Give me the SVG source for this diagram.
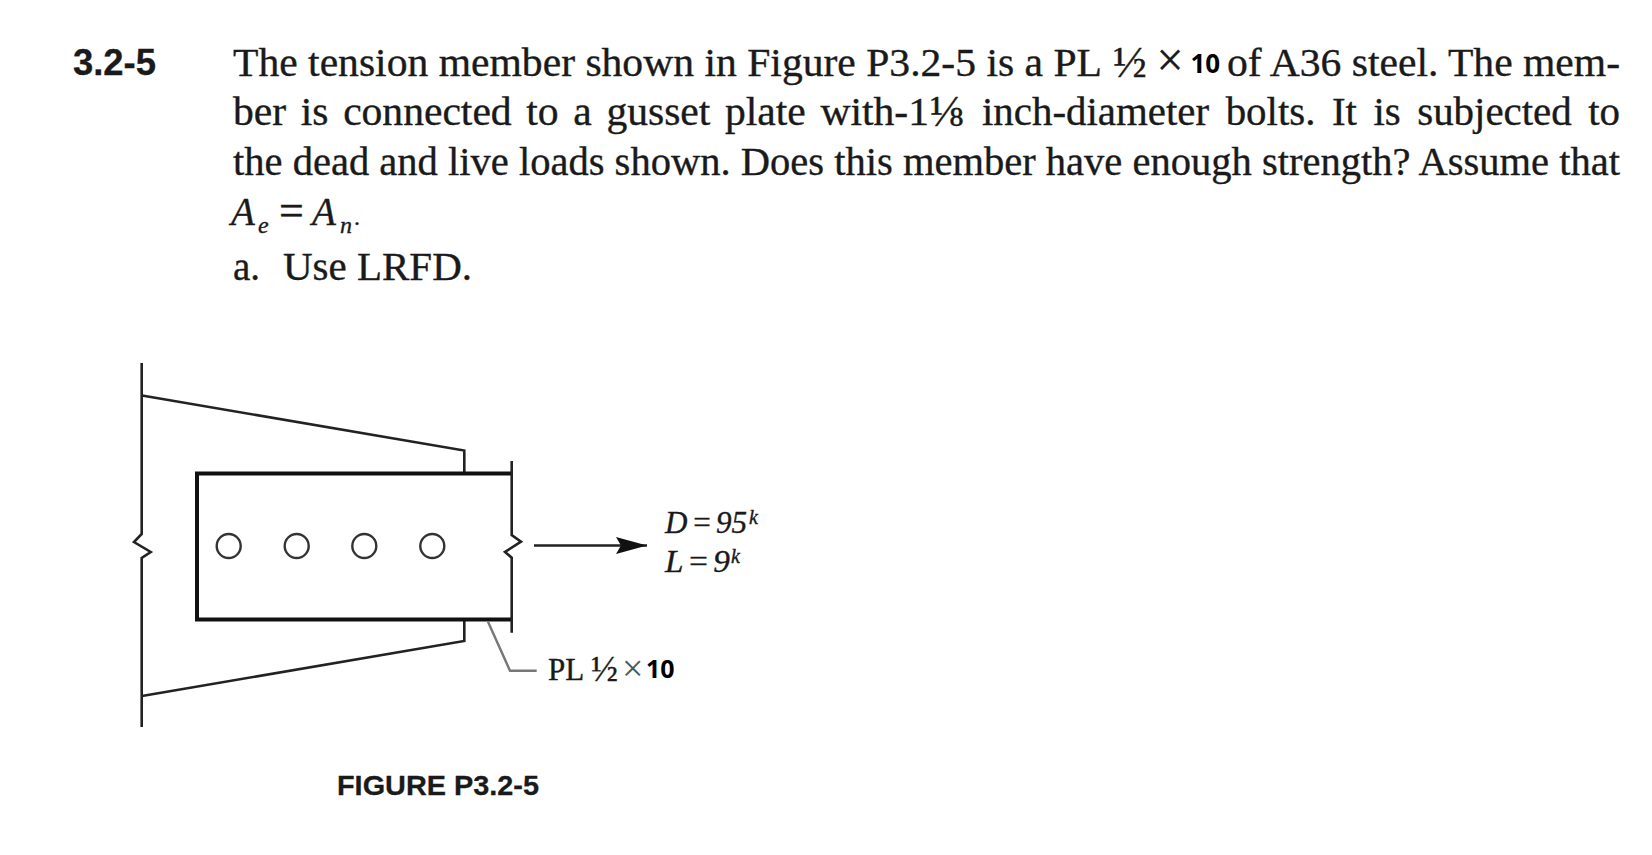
<svg xmlns="http://www.w3.org/2000/svg" width="1652" height="855" viewBox="0 0 1652 855">
<style>
.b{font-family:"Liberation Serif","Times New Roman",serif;fill:#1a1a1a;stroke:#1a1a1a;stroke-width:.35px}
.m{font-size:39px}
.i{font-style:italic}
.h{font-family:"Liberation Sans",Arial,sans-serif;font-weight:bold;fill:#1a1a1a;stroke:#1a1a1a;stroke-width:.3px}
.t{font-family:"Noto Sans","Open Sans",sans-serif;font-weight:bold;fill:#000}
.f{fill:none;stroke:#222;stroke-width:2.6}
.c{fill:none;stroke:#333;stroke-width:2.4}
</style>
<defs><marker id="ah" markerUnits="userSpaceOnUse" markerWidth="32" markerHeight="20" refX="31" refY="10" orient="auto"><path d="M0,1.500 L31,10 L0,18.500 L5,10 Z" fill="#111"/></marker></defs>
<rect width="1652" height="855" fill="#fff"/>
<g id="problem">
<text class="h" x="73" y="75" font-size="36" textLength="83" lengthAdjust="spacingAndGlyphs">3.2-5</text>
<text class="b m" x="233" y="75.500" textLength="869" lengthAdjust="spacingAndGlyphs">The tension member shown in Figure P3.2-5 is a PL</text>
<text class="b" style="font-size:45px" x="1113" y="77">½</text>
<text class="b" style="font-size:48px" x="1156.500" y="76">×</text>
<text class="t" x="1190.500" y="73.300" font-size="26">10</text>
<text class="b m" x="1227" y="75.500" textLength="393" lengthAdjust="spacingAndGlyphs">of A36 steel. The mem-</text>
<text class="b m" x="233" y="125" word-spacing="4" textLength="696" lengthAdjust="spacingAndGlyphs">ber is connected to a gusset plate with-1</text>
<text class="b" style="font-size:44px" x="930" y="126">⅛</text>
<text class="b m" x="982" y="125" word-spacing="6" textLength="638" lengthAdjust="spacingAndGlyphs">inch-diameter bolts. It is subjected to</text>
<text class="b m" x="233" y="174.500" textLength="1387" lengthAdjust="spacingAndGlyphs">the dead and live loads shown. Does this member have enough strength? Assume that</text>
<g id="equation"><text class="b m i" x="231" y="225">A</text><text class="b i" style="font-size:24px" x="258" y="233">e</text><text class="b" style="font-size:44px" x="279" y="225">=</text><text class="b m i" x="312" y="225">A</text><text class="b i" style="font-size:24px" x="340" y="233">n</text><text class="b" style="font-size:24px" x="354" y="225">.</text></g>
<text class="b m" x="233" y="280">a.</text>
<text class="b m" x="283" y="280" textLength="189" lengthAdjust="spacingAndGlyphs">Use LRFD.</text>
</g>
<g id="gusset"><path class="f" d="M141.700,363 V534 L134,542 L150.700,552 L141.700,558 V727"/><path class="f" d="M142,395.500 L464.300,450.500 V473"/><path class="f" d="M464.300,620 V641 L142,696"/></g>
<g id="plate"><path d="M511.700,473.500 H197 V619.500 H511.700" fill="none" stroke="#111" stroke-width="4"/><path class="f" d="M511.700,461 V535 L521,541.700 L505,552 L511.700,557.700 V632.700"/></g>
<g id="bolts"><circle class="c" cx="228.700" cy="546" r="12"/><circle class="c" cx="296.700" cy="546" r="12"/><circle class="c" cx="364.300" cy="546" r="12"/><circle class="c" cx="432.300" cy="546" r="12"/></g>
<g id="connectors"><path d="M534,545.500 H647" fill="none" stroke="#222" stroke-width="2.600" marker-end="url(#ah)"/><path d="M488,621.700 L510,670.700 H536.700" fill="none" stroke="#777" stroke-width="2.400"/></g>
<g id="labels">
<text class="b i" style="font-size:31px" x="665" y="532.700" word-spacing="-4" textLength="82" lengthAdjust="spacingAndGlyphs">D = 95</text><text class="b i" style="font-size:20px" x="749" y="524">k</text>
<text class="b i" style="font-size:31px" x="665" y="571.700" word-spacing="-4" textLength="65" lengthAdjust="spacingAndGlyphs">L = 9</text><text class="b i" style="font-size:20px" x="731" y="563">k</text>
<text class="b" style="font-size:31px" x="548" y="680">PL</text><text class="b" style="font-size:36px" x="591" y="681">½</text><text class="b" style="font-size:38px;fill:#555;stroke:none" x="622" y="681">×</text><text class="t" x="646" y="678" font-size="25">10</text>
<text class="h" x="337" y="794.500" font-size="28" textLength="202" lengthAdjust="spacingAndGlyphs">FIGURE P3.2-5</text>
</g>
</svg>
